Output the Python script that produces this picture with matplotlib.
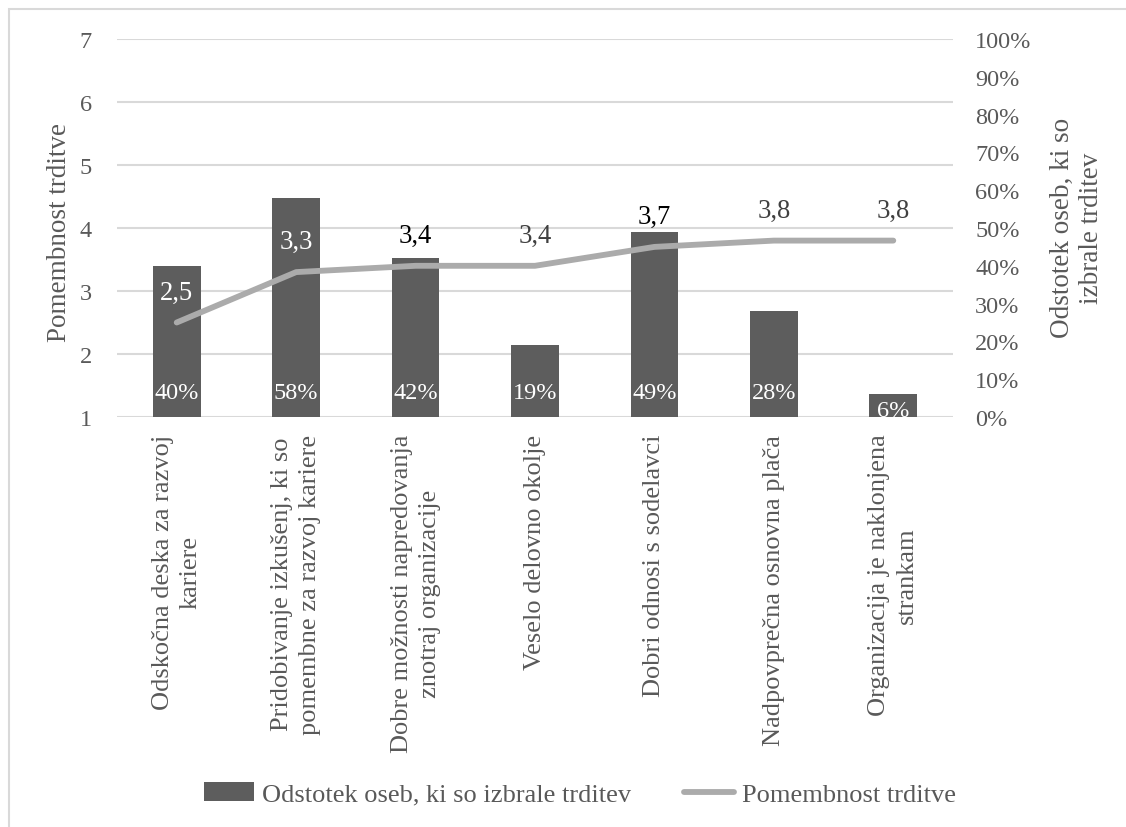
import numpy as np
import matplotlib.pyplot as plt
from matplotlib.patches import Rectangle, Patch
from matplotlib.lines import Line2D

categories = [
    "Odskočna deska za razvoj\nkariere",
    "Pridobivanje izkušenj, ki so\npomembne za razvoj kariere",
    "Dobre možnosti napredovanja\nznotraj organizacije",
    "Veselo delovno okolje",
    "Dobri odnosi s sodelavci",
    "Nadpovprečna osnovna plača",
    "Organizacija je naklonjena\nstrankam",
]
share_pct = [40, 58, 42, 19, 49, 28, 6]
importance = [2.5, 3.3, 3.4, 3.4, 3.7, 3.8, 3.8]
importance_label_colors = ["white", "white", "black", "#404040", "black", "#404040", "#404040"]

bar_name = "Odstotek oseb, ki so izbrale trditev"
line_name = "Pomembnost trditve"

BAR_COLOR = "#5d5d5d"
LINE_COLOR = "#ababab"
TEXT_COLOR = "#595959"
GRID_COLOR = "#d9d9d9"
FS_TICK = 17.5
FS_CAT = 19
FS_VAL = 19.2
FS_TITLE = 19.5

plt.rcParams['font.family'] = ['Liberation Serif', 'DejaVu Serif']

fig = plt.figure(figsize=(11.26, 8.28), dpi=100)
ax = fig.add_axes([117 / 1126, 1 - 418 / 828, 836 / 1126, 378 / 828])
ax2 = ax.twinx()

x = np.arange(len(categories))

# bars on the right (percent) axis
ax2.bar(x, np.array(share_pct) / 100, width=0.4, color=BAR_COLOR, zorder=2)
ax2.set_ylim(0, 1)
ax2.set_yticks(np.arange(0, 1.01, 0.1))
ax2.set_yticklabels([f"{int(round(v * 100))}%" for v in np.arange(0, 1.01, 0.1)])

# labels inside the base of each bar; short bars push the label down (clipped)
for xi, v in zip(x, share_pct):
    yc = min(0.066, v / 100 - 0.042)
    t = ax2.text(xi, yc, f"{v}%", ha="center", va="center", color="white",
                 fontsize=FS_TICK, zorder=4)
    t.set_clip_box(ax2.bbox)
    t.set_clip_on(True)

ax.set_ylim(1, 7)
ax.set_xlim(-0.5, len(categories) - 0.5)
ax2.set_xlim(-0.5, len(categories) - 0.5)
line_t = ax.transData
ax2.plot(x, importance, color=LINE_COLOR, lw=4.2, solid_capstyle="round",
         solid_joinstyle="round", transform=line_t, zorder=3)
for xi, v, c in zip(x, importance, importance_label_colors):
    ax2.annotate(f"{v:.1f}".replace(".", ","), (xi, v), xycoords=line_t,
                 xytext=(0, 22), textcoords="offset points",
                 ha="center", va="center", color=c, fontsize=FS_VAL, zorder=5)

ax.set_yticks(range(1, 8))
ax.yaxis.grid(True, color=GRID_COLOR, lw=1.5)
ax.set_axisbelow(True)
ax.set_xticks(x)
ax.set_xticklabels(categories, rotation=90, ha="center", va="top",
                   multialignment="center", fontsize=FS_CAT, color=TEXT_COLOR)
for lbl in ax.get_xticklabels():
    lbl.set_linespacing(1.35)
ax.tick_params(axis="x", length=0, pad=12)
ax.tick_params(axis="y", length=0, pad=18, labelsize=FS_TICK, labelcolor=TEXT_COLOR)
ax2.tick_params(axis="y", length=0, pad=16, labelsize=FS_TICK, labelcolor=TEXT_COLOR)

for a in (ax, ax2):
    for s in a.spines.values():
        s.set_visible(False)

fig.text(59 / 1126, 1 - 232 / 828, line_name, rotation=90, ha="center", va="center",
         fontsize=FS_TITLE, color=TEXT_COLOR)
fig.text(1077 / 1126, 1 - 228 / 828, "Odstotek oseb, ki so\nizbrale trditev",
         rotation=90, ha="center", va="center", multialignment="center",
         fontsize=FS_TITLE, color=TEXT_COLOR, linespacing=1.2)

handles = [Patch(facecolor=BAR_COLOR, edgecolor="none"),
           Line2D([0], [0], color=LINE_COLOR, lw=4.2, solid_capstyle="round")]
fig.legend(handles, [bar_name, line_name], loc="center", bbox_to_anchor=(580 / 1126, 1 - 795 / 828),
           ncol=2, frameon=False, fontsize=FS_CAT, labelcolor=TEXT_COLOR,
           handlelength=1.9, handleheight=0.75, handletextpad=0.3, columnspacing=2.0)

# outer chart border (only top/left visible in the reference)
fig.patches.append(Rectangle((9 / 1126, -0.05), 1.2, 1 - 10 / 828 + 0.05,
                             transform=fig.transFigure, fill=False,
                             edgecolor=GRID_COLOR, lw=1.5))

fig.savefig("out.png", dpi=100)
